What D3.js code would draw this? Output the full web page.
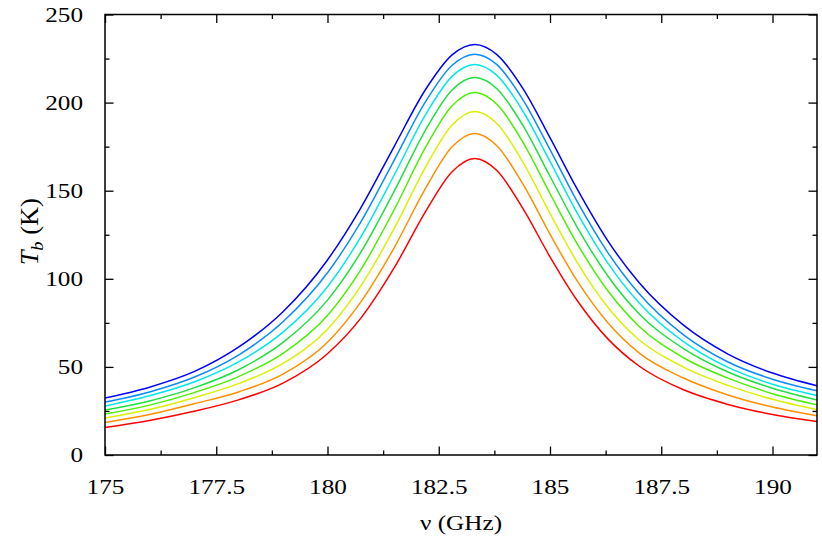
<!DOCTYPE html>
<html>
<head>
<meta charset="utf-8">
<script src="https://cdn.jsdelivr.net/npm/d3@7"></script>
<style>
  body { margin: 0; background: #fff; }
  svg text { font-family: "Liberation Serif", "Times New Roman", Times, serif; fill: #000; }
</style>
</head>
<body>
<div id="container"></div>
<script>
var scene_width = 822, scene_height = 541
var margin = {top: 14.5, right: 5, bottom: 86, left: 105}
var stretch = 1.2   // glyphs in the reference are drawn a bit wide

// frequency samples (GHz)
var nu = [175, 176, 177, 178, 179, 180, 180.75, 181.5, 182.2, 182.8, 183.31,
          183.8, 184.4, 185, 185.6, 186.3, 187, 188, 189, 190, 191]

// brightness temperature (K), one array per curve, top to bottom
var tbBlue   = [32.3, 38.5, 47.3, 61.2, 81.3, 110.7, 140.3, 175.2, 207.3, 227.1, 233.0,
                227.4, 207.7, 180.1, 151.4, 121.5, 97.9, 73.7, 57.3, 46.5, 39.3]
var tbAzure  = [30.0, 35.8, 44.1, 56.7, 75.6, 103.4, 132.3, 167.4, 200.4, 221.2, 227.5,
                221.7, 201.3, 173.3, 144.4, 114.9, 91.6, 68.2, 52.8, 43.0, 36.4]
var tbCyan   = [27.8, 33.6, 41.4, 52.8, 69.7, 95.5, 123.8, 158.9, 193.0, 214.9, 221.6,
                215.6, 194.8, 166.6, 137.9, 108.9, 86.4, 64.3, 49.7, 40.2, 33.8]
var tbGreen  = [25.5, 30.7, 38.1, 48.4, 63.9, 87.9, 115.1, 149.8, 184.3, 207.2, 214.2,
                208.0, 186.7, 158.2, 129.8, 101.6, 80.2, 60.4, 47.1, 37.9, 31.2]
var tbLime   = [23.2, 28.3, 35.4, 44.5, 57.7, 79.2, 105.2, 139.3, 174.4, 198.2, 205.7,
                199.2, 177.2, 148.4, 120.4, 93.2, 73.1, 55.2, 43.6, 34.8, 28.5]
var tbYellow = [21.0, 25.8, 32.5, 40.5, 52.0, 71.4, 96.0, 128.6, 163.3, 187.3, 195.0,
                188.3, 165.8, 137.1, 109.8, 83.9, 65.4, 49.9, 39.5, 31.6, 25.7]
var tbOrange = [18.5, 23.0, 29.1, 35.8, 45.9, 64.0, 86.9, 117.7, 151.2, 174.9, 182.5,
                175.7, 153.4, 125.3, 99.2, 75.1, 58.0, 43.7, 34.1, 27.2, 22.2]
var tbRed    = [15.6, 19.6, 24.8, 31.3, 40.8, 57.5, 77.7, 106.3, 138.0, 160.8, 168.3,
                161.6, 139.5, 112.5, 88.1, 65.9, 50.5, 37.0, 28.7, 23.0, 19.0]

var xMajor = [175, 177.5, 180, 182.5, 185, 187.5, 190]
var xMinor = [176.25, 178.75, 181.25, 183.75, 186.25, 188.75]
var yMajor = [0, 50, 100, 150, 200, 250]
var yMinor = [25, 75, 125, 175, 225]

var series = [
    {color: '#0000ff', values: tbBlue},
    {color: '#0a8cff', values: tbAzure},
    {color: '#00e8e8', values: tbCyan},
    {color: '#1ee040', values: tbGreen},
    {color: '#4cf000', values: tbLime},
    {color: '#dcf000', values: tbYellow},
    {color: '#ff9000', values: tbOrange},
    {color: '#ff0000', values: tbRed}
]

var w = scene_width - margin.left - margin.right
var h = scene_height - margin.top - margin.bottom

var svg = d3.select('#container').append('svg')
    .attr('width', scene_width)
    .attr('height', scene_height)

var g = svg.append('g').attr('transform', 'translate(' + margin.left + ',' + margin.top + ')')

var x = d3.scaleLinear().domain([175, 191]).range([0, w])
var y = d3.scaleLinear().domain([0, 250]).range([h, 0])

g.append('clipPath').attr('id', 'plot-clip')
    .append('rect').attr('width', w).attr('height', h)

var line = d3.line()
    .x((d, i) => x(nu[i]))
    .y(d => y(d))
    .curve(d3.curveMonotoneX)

g.append('g').attr('clip-path', 'url(#plot-clip)')
    .selectAll('path')
    .data(series)
    .join('path')
    .attr('d', d => line(d.values))
    .attr('fill', 'none')
    .attr('stroke', d => d.color)
    .attr('stroke-width', 1.5)

function styleAxis(sel) {
    sel.attr('font-family', null).attr('font-size', null)
    sel.select('.domain').remove()
    sel.selectAll('line').attr('stroke', '#000').attr('stroke-width', 1.3)
    sel.selectAll('text').attr('font-size', 21)
        .attr('transform', 'scale(' + stretch + ',1)')
}

// bottom / left axes with labels, ticks pointing inward
g.append('g').attr('transform', 'translate(0,' + h + ')')
    .call(d3.axisBottom(x).tickValues(xMajor).tickSize(-8.5).tickPadding(24).tickFormat(d3.format('')))
    .call(styleAxis)
g.append('g').attr('transform', 'translate(0,' + h + ')')
    .call(d3.axisBottom(x).tickValues(xMinor).tickSize(-4.5).tickFormat(''))
    .call(styleAxis)
g.append('g')
    .call(d3.axisLeft(y).tickValues(yMajor).tickSize(-8.5).tickPadding(22 / stretch))
    .call(styleAxis)
g.append('g')
    .call(d3.axisLeft(y).tickValues(yMinor).tickSize(-4.5).tickFormat(''))
    .call(styleAxis)

// mirrored ticks on top / right
g.append('g')
    .call(d3.axisTop(x).tickValues(xMajor).tickSize(-8.5).tickFormat(''))
    .call(styleAxis)
g.append('g')
    .call(d3.axisTop(x).tickValues(xMinor).tickSize(-4.5).tickFormat(''))
    .call(styleAxis)
g.append('g').attr('transform', 'translate(' + w + ',0)')
    .call(d3.axisRight(y).tickValues(yMajor).tickSize(-8.5).tickFormat(''))
    .call(styleAxis)
g.append('g').attr('transform', 'translate(' + w + ',0)')
    .call(d3.axisRight(y).tickValues(yMinor).tickSize(-4.5).tickFormat(''))
    .call(styleAxis)

// frame
g.append('rect')
    .attr('width', w).attr('height', h)
    .attr('fill', 'none')
    .attr('stroke', '#000')
    .attr('stroke-width', 1.5)

// axis titles
svg.append('text')
    .attr('transform', 'translate(' + (margin.left + w / 2) + ',530) scale(' + stretch + ',1)')
    .attr('text-anchor', 'middle')
    .attr('font-size', 21)
    .text('ν (GHz)')

var ylab = svg.append('text')
    .attr('transform', 'translate(38,' + (margin.top + h / 2 - 3) + ') rotate(-90) scale(1.15,1.08)')
    .attr('text-anchor', 'middle')
    .attr('font-size', 23)
ylab.append('tspan').attr('font-style', 'italic').text('T')
ylab.append('tspan').attr('font-style', 'italic').attr('font-size', 16).attr('dy', 5).text('b')
ylab.append('tspan').attr('dy', -5).text(' (K)')
</script>
</body>
</html>
